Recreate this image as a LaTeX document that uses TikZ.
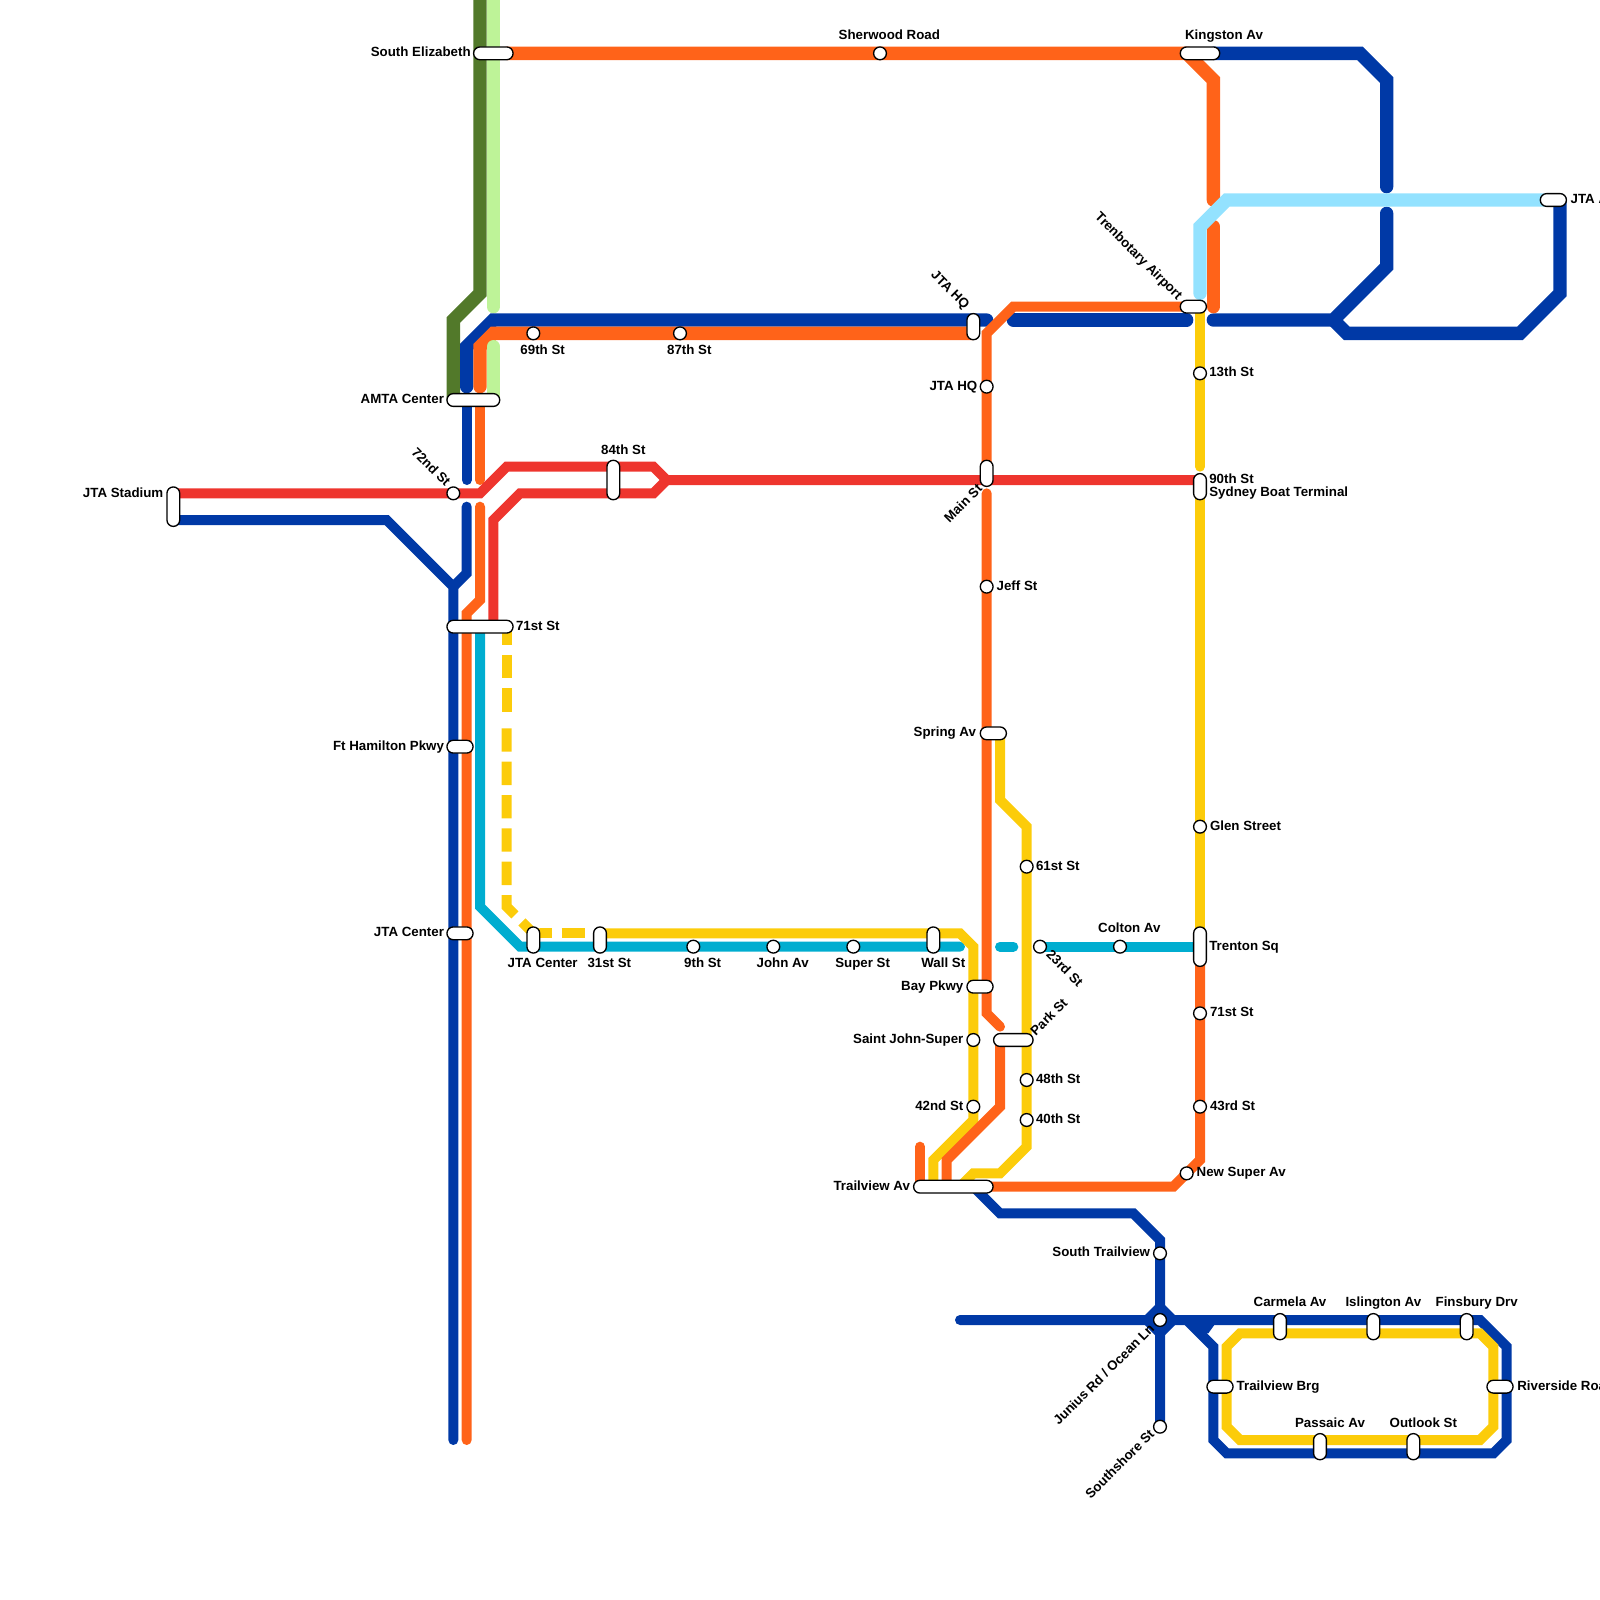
\documentclass[tikz,border=0pt]{standalone}
\usepackage{fontspec}
\setmainfont{Liberation Sans}[BoldFont={Liberation Sans Bold}]
\usetikzlibrary{shapes.misc}
\definecolor{cblue}{HTML}{0039A6}
\definecolor{corange}{HTML}{FF6319}
\definecolor{cred}{HTML}{EE352E}
\definecolor{cyellow}{HTML}{FCCC0A}
\definecolor{cteal}{HTML}{00ADD0}
\definecolor{cdgreen}{HTML}{52792A}
\definecolor{clgreen}{HTML}{BEF398}
\definecolor{clblue}{HTML}{93E2FF}
\pgfdeclarelayer{lines}
\pgfsetlayers{lines,main}
\tikzset{
  route/.style={line cap=round,line join=miter,line width=.375cm,draw=#1},
  heavy/.style={line cap=round,line join=miter,line width=.5cm,draw=#1},
  pill/.style={rounded rectangle,draw=black,fill=white,line width=.05cm,inner sep=0pt,outer sep=0pt,minimum height=.48cm},
  stop/.style={circle,draw=black,fill=white,line width=.05cm,inner sep=0pt,outer sep=0pt,minimum size=.48cm},
  lab/.style={inner sep=0pt,outer sep=0pt,text=black,font=\fontsize{14.2pt}{14.2pt}\selectfont\bfseries},
  lr/.style={lab,anchor=mid west,yshift=-.09cm},
  ll/.style={lab,anchor=mid east,yshift=-.09cm},
  lc/.style={lab,anchor=mid,yshift=-.09cm},
  rr/.style={lab,anchor=mid west,rotate=#1},
  rl/.style={lab,anchor=mid east,rotate=#1},
  dashpiece/.style={line cap=butt,line join=miter,line width=.375cm,draw=cyellow,dash pattern=on .875cm off .375cm,dash phase=#1}
}
\newcommand\hpill[4]{\coordinate (#1-a) at (#2,#4);\coordinate (#1-b) at (#3,#4);
  \node[pill,minimum width={(#3-#2)*0.5cm+.48cm}] (#1) at ({(#2+#3)/2},#4) {};}
\newcommand\vpill[4]{\coordinate (#1-a) at (#2,#3);\coordinate (#1-b) at (#2,#4);
  \node[pill,rotate=90,minimum width={(#4-#3)*0.5cm+.48cm}] (#1) at (#2,{(#3+#4)/2}) {};}
\newcommand\stn[3]{\node[stop] (#1) at (#2,#3) {};}
\begin{document}
\begin{tikzpicture}[x=.5cm,y=-.5cm]
\useasboundingbox (0,0) rectangle (120,120);
\clip (0,0) rectangle (120,120);
% stations
\hpill{selizabeth}{36}{38}{4}
\stn{sherwood}{66}{4}
\hpill{kingston}{89}{91}{4}
\hpill{jtaa}{116}{117}{15}
\hpill{trenbotary}{89}{90}{23}
\vpill{jtahqa}{73}{24}{25}
\stn{st69}{40}{25}
\stn{st87}{51}{25}
\stn{jtahqb}{74}{29}
\hpill{amta}{34}{37}{30}
\stn{st72}{34}{37}
\vpill{st84}{46}{35}{37}
\vpill{stadium}{13}{37}{39}
\vpill{mainst}{74}{35}{36}
\vpill{st90}{90}{36}{37}
\stn{st13}{90}{28}
\stn{jeff}{74}{44}
\hpill{st71a}{34}{38}{47}
\hpill{spring}{74}{75}{55}
\hpill{hamilton}{34}{35}{56}
\stn{glen}{90}{62}
\stn{st61}{77}{65}
\hpill{jtacentera}{34}{35}{70}
\vpill{jtacenterb}{40}{70}{71}
\vpill{st31}{45}{70}{71}
\stn{st9}{52}{71}
\stn{john}{58}{71}
\stn{super}{64}{71}
\vpill{wall}{70}{70}{71}
\stn{st23}{78}{71}
\stn{colton}{84}{71}
\vpill{trenton}{90}{70}{72}
\hpill{bay}{73}{74}{74}
\stn{stjohn}{73}{78}
\hpill{park}{75}{77}{78}
\stn{st71b}{90}{76}
\stn{st48}{77}{81}
\stn{st43}{90}{83}
\stn{st42}{73}{83}
\stn{st40}{77}{84}
\stn{newsuper}{89}{88}
\hpill{trailview}{69}{74}{89}
\stn{strailview}{87}{94}
\stn{junius}{87}{99}
\vpill{carmela}{96}{99}{100}
\vpill{islington}{103}{99}{100}
\vpill{finsbury}{110}{99}{100}
\hpill{trailbrg}{91}{92}{104}
\hpill{riverside}{112}{113}{104}
\stn{southshore}{87}{107}
\vpill{passaic}{99}{108}{109}
\vpill{outlook}{106}{108}{109}
% labels
\node[ll] (t1) at (35.3,3.9) {South Elizabeth};
\node[lc] (t2) at (66.7,2.6) {Sherwood Road};
\node[lc] (t3) at (91.8,2.6) {Kingston Av};
\node[lr] (t4) at (117.8,14.9) {JTA A};
\node[rl=-45] (t5) at (88.4,22.4) {Trenbotary Airport};
\node[rl=-45] (t6) at (72.45,23.1) {JTA HQ};
\node[lc] (t7) at (40.7,26.2) {69th St};
\node[lc] (t8) at (51.7,26.2) {87th St};
\node[ll] (t9) at (73.3,28.9) {JTA HQ};
\node[ll] (t10) at (33.3,29.9) {AMTA Center};
\node[rl=-45] (t11) at (33.5,36.4) {72nd St};
\node[lc] (t12) at (46.75,33.7) {84th St};
\node[ll] (t13) at (12.25,36.95) {JTA Stadium};
\node[lr] (t14) at (90.7,35.9) {90th St};
\node[lr] (t15) at (90.7,36.9) {Sydney Boat Terminal};
\node[lr] (t16) at (90.7,27.9) {13th St};
\node[rl=45] (t17) at (73.6,36.6) {Main St};
\node[lr] (t18) at (74.75,43.9) {Jeff St};
\node[lr] (t19) at (38.7,46.9) {71st St};
\node[ll] (t20) at (73.2,54.9) {Spring Av};
\node[ll] (t21) at (33.3,55.9) {Ft Hamilton Pkwy};
\node[lr] (t22) at (90.75,61.9) {Glen Street};
\node[lr] (t23) at (77.7,64.9) {61st St};
\node[ll] (t24) at (33.3,69.9) {JTA Center};
\node[lc] (t25) at (84.7,69.6) {Colton Av};
\node[lr] (t26) at (90.7,70.9) {Trenton Sq};
\node[lc] (t27) at (40.7,72.2) {JTA Center};
\node[lc] (t28) at (45.7,72.2) {31st St};
\node[lc] (t29) at (52.7,72.2) {9th St};
\node[lc] (t30) at (58.7,72.2) {John Av};
\node[lc] (t31) at (64.7,72.2) {Super St};
\node[lc] (t32) at (70.75,72.2) {Wall St};
\node[rr=-45] (t33) at (78.55,71.55) {23rd St};
\node[ll] (t34) at (72.25,73.9) {Bay Pkwy};
\node[ll] (t35) at (72.25,77.9) {Saint John-Super};
\node[rr=45] (t36) at (77.55,77.6) {Park St};
\node[lr] (t37) at (90.75,75.9) {71st St};
\node[lr] (t38) at (90.75,82.9) {43rd St};
\node[lr] (t39) at (77.7,80.9) {48th St};
\node[lr] (t40) at (77.7,83.9) {40th St};
\node[ll] (t41) at (72.25,82.9) {42nd St};
\node[lr] (t42) at (89.75,87.9) {New Super Av};
\node[ll] (t43) at (68.25,88.9) {Trailview Av};
\node[ll] (t44) at (86.25,93.9) {South Trailview};
\node[lc] (t45) at (96.75,97.65) {Carmela Av};
\node[lc] (t46) at (103.75,97.65) {Islington Av};
\node[lc] (t47) at (110.75,97.65) {Finsbury Drv};
\node[rl=45] (t48) at (86.5,99.6) {Junius Rd / Ocean Ln};
\node[rl=45] (t49) at (86.5,107.5) {Southshore St};
\node[lr] (t50) at (92.75,103.9) {Trailview Brg};
\node[lr] (t51) at (113.8,103.9) {Riverside Roa};
\node[lc] (t52) at (99.75,106.7) {Passaic Av};
\node[lc] (t53) at (106.75,106.7) {Outlook St};
% routes
\begin{pgfonlayer}{lines}
\draw[heavy=cdgreen] (36,-1)--(36,22)--(34,24)--(amta-a);
\draw[heavy=clgreen] (37,-1)--(37,23);
% blue
\draw[route=cblue] (stadium-b)--(29,39)--(34,44)--(34,108);
\draw[route=cblue] (35,30)--(35,36);
\draw[route=cblue] (35,38)--(35,43)--(34,44);
\draw[heavy=cblue] (35,29)--(35,26)--(37,24)--(74,24);
\draw[heavy=cblue] (76,24)--(89,24);
\draw[heavy=cblue] (91,24)--(100,24)--(104,20)--(104,16);
\draw[heavy=cblue] (100,24)--(101,25)--(114,25)--(117,22)--(jtaa-b);
\draw[heavy=cblue] (kingston-b)--(102,4)--(104,6)--(104,14);
\draw[route=cblue] (73,89)--(75,91)--(85,91)--(87,93)--(southshore.center);
\draw[route=cblue] (72,99)--(junius.center)--(111,99)--(113,101)--(113,108)--(112,109)--(92,109)--(91,108)--(91,101)--(89,99);
\fill[cblue] (87,97.5)--(88.5,99)--(87,100.5)--(85.5,99)--cycle;
\fill[cblue] (89.8,99.3)--(91.125,99.3)--(90.625,100)--(90.3,100)--cycle;
% teal
\draw[route=cteal] (st71a.center)--(36,68)--(39,71)--(72,71);
\draw[route=cteal] (75,71)--(76,71);
\draw[route=cteal] (st23.center)--(trenton.center);
% yellow
\draw[route=cyellow] (trenbotary-b)--(90,35);
\draw[route=cyellow] (st90-b)--(trenton-a);
\draw[route=cyellow] (st31-a)--(72,70)--(73,71)--(73,84)--(70,87)--(70,89);
\draw[route=cyellow] (spring-b)--(75,60)--(77,62)--(77,86)--(75,88)--(73,88)--(72,89);
\draw[route=cyellow] (93,100)--(111,100)--(112,101)--(112,107)--(111,108)--(93,108)--(92,107)--(92,101)--cycle;
\draw[dashpiece=.1875cm] (st71a-b)--(38,53.375);
\draw[dashpiece=0cm] (38,54.625)--(38,68)--(40,70)--(40.5,70);
\draw[dashpiece=.4375cm] (40.5,70)--(st31-a);
% orange
\draw[heavy=corange] (selizabeth-b)--(kingston-a)--(91,6)--(91,15);
\draw[heavy=corange] (91,17)--(91,23);
\draw[heavy=corange] (36,29)--(36,26)--(37,25)--(jtahqa-b);
\draw[route=corange] (mainst-a)--(74,25)--(76,23)--(trenbotary-a);
\draw[route=corange] (36,30)--(36,36);
\draw[route=corange] (36,38)--(36,45)--(35,46)--(35,108);
\draw[route=corange] (74,37)--(74,76)--(75,77);
\draw[route=corange] (park-a)--(75,83)--(71,87)--(71,89);
\draw[route=corange] (69,86)--(69,89);
\draw[route=corange] (trenton-b)--(90,87)--(88,89)--(trailview-b);
% red
\draw[route=cred] (stadium-a)--(36,37)--(38,35)--(49,35)--(50,36)--(st90-a);
\draw[route=cred] (50,36)--(49,37)--(39,37)--(37,39)--(37,47);
% light green, light blue
\draw[heavy=clgreen] (37,26)--(37,30);
\draw[heavy=clblue] (90,22)--(90,17)--(92,15)--(jtaa-a);
\end{pgfonlayer}
\end{tikzpicture}
\end{document}
